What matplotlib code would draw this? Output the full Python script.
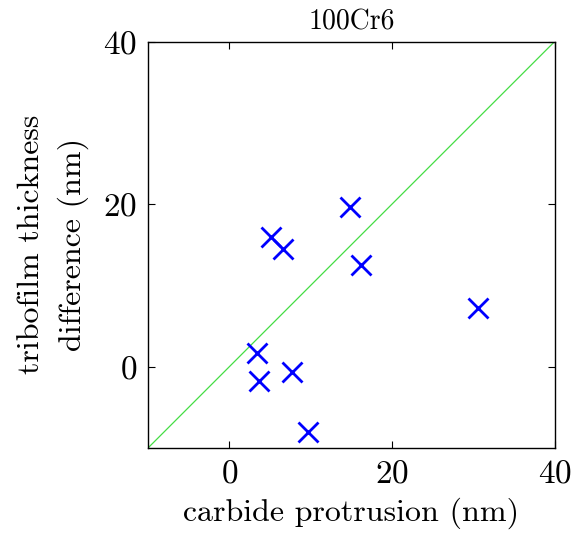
import matplotlib.pyplot as plt

# carbide protrusion vs tribofilm thickness difference, both in nm
protrusion = [5.1, 6.6, 14.8, 16.2, 3.4, 3.7, 7.7, 9.7, 30.6]
thickness_diff = [15.9, 14.5, 19.6, 12.5, 1.7, -1.8, -0.7, -8.0, 7.2]
ticks = [0, 20, 40]
lims = [-10, 40]

plt.rcParams["font.family"] = "cmr10"
plt.rcParams["mathtext.fontset"] = "cm"
plt.rcParams["axes.formatter.use_mathtext"] = True

fig = plt.figure(figsize=(5.76, 5.35), dpi=100)
ax = fig.add_axes([148 / 576, 1 - 448 / 535, 406.7 / 576, 406.5 / 535])

ax.plot(lims, lims, "-", color="#44dd44", linewidth=0.9)
ax.plot(protrusion, thickness_diff, "x", color="#0000ff",
        markersize=14, markeredgewidth=2.0)

ax.set_xlim(lims)
ax.set_ylim(lims)
ax.set_xticks(ticks)
ax.set_yticks(ticks)
ax.tick_params(direction="in", top=True, right=True, length=5,
               labelsize=24, pad=8)
for s in ax.spines.values():
    s.set_linewidth(1.0)

ax.set_title("100Cr6", fontsize=20, pad=9)
ax.set_xlabel("carbide protrusion (nm)", fontsize=23, labelpad=7)
ax.set_ylabel("tribofilm thickness\ndifference (nm)", fontsize=23,
              labelpad=10, linespacing=1.55)

fig.savefig("out.png", dpi=100)
